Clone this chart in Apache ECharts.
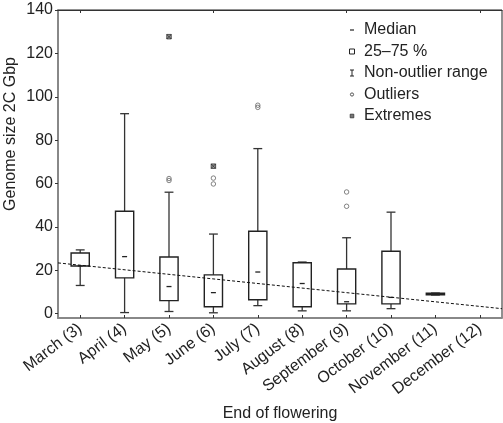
<!DOCTYPE html>
<html>
<head>
<meta charset="utf-8">
<script src="https://cdn.jsdelivr.net/npm/echarts@6/dist/echarts.min.js"></script>
<style>
html,body{margin:0;padding:0;background:#fff;}
#chart{width:503px;height:423px;}
</style>
</head>
<body>
<div id="chart"></div>
<script>
var categories = ['March (3)','April (4)','May (5)','June (6)','July (7)','August (8)','September (9)','October (10)','November (11)','December (12)'];
var whiskerLow  = [13,   0.5, 1,    0.4,  3.7,  1.3,  1.3,  2.3,  8.6, null];
var q1          = [22,   16.5, 6,   3.2,  6.4,  3.2,  4.5,  4.5,  8.7, null];
var median      = [22,   26.3, 12.5, 9.7, 19.2, 13.9, 5.5,  7.5,  9.0, null];
var q3          = [28,   47.2, 26.1, 17.9, 38,  23.5, 20.6, 28.8, 9.4, null];
var whiskerHigh = [29.4, 92.2, 56,   36.7, 76.1, 23.8, 35,  46.8, 9.5, null];
var outliers = [[2,61.4],[2,62.3],[3,62.5],[3,59.8],[4,95.1],[4,96.1],[6,56.1],[6,49.5]];
var extremes = [[2,127.7],[3,68.0]];
var trendX = [-0.5, 9.5];
var trendY = [23.4, 2.3];
var yTicks = [0,20,40,60,80,100,120,140];
var legendItems = ['Median','25\u201375 %','Non-outlier range','Outliers','Extremes'];
var yTitle = 'Genome size 2C Gbp';
var xTitle = 'End of flowering';

var FONT = 'Liberation Sans, Arial, Helvetica, sans-serif';
var boxData = [];
for (var i = 0; i < categories.length; i++) {
  if (median[i] == null) continue;
  boxData.push([i, whiskerLow[i], q1[i], median[i], q3[i], whiskerHigh[i]]);
}
var trendData = trendX.map(function(x, k){ return [x, trendY[k]]; });

function renderBox(params, api) {
  var idx = api.value(0);
  var x = api.coord([idx, 0])[0];
  var bw = api.size([1, 0])[0] * 0.41;
  var cw = api.size([1, 0])[0] * 0.2;
  var mw = 5;
  var yLo = api.coord([idx, api.value(1)])[1];
  var yQ1 = api.coord([idx, api.value(2)])[1];
  var yMd = api.coord([idx, api.value(3)])[1];
  var yQ3 = api.coord([idx, api.value(4)])[1];
  var yHi = api.coord([idx, api.value(5)])[1];
  var wStyle = {stroke: '#333', lineWidth: 1.3, fill: null};
  var bStyle = {stroke: '#222', lineWidth: 1.4, fill: null};
  return {
    type: 'group',
    children: [
      {type:'line', shape:{x1:x, y1:yQ3, x2:x, y2:yHi}, style: wStyle},
      {type:'line', shape:{x1:x, y1:yQ1, x2:x, y2:yLo}, style: wStyle},
      {type:'line', shape:{x1:x-cw/2, y1:yHi, x2:x+cw/2, y2:yHi}, style: wStyle},
      {type:'line', shape:{x1:x-cw/2, y1:yLo, x2:x+cw/2, y2:yLo}, style: wStyle},
      {type:'rect', shape:{x:x-bw/2, y:yQ3, width:bw, height:Math.max(1, yQ1-yQ3)}, style: bStyle},
      {type:'line', shape:{x1:x-mw/2, y1:yMd, x2:x+mw/2, y2:yMd}, style: {stroke:'#222', lineWidth:1.3}}
    ]
  };
}

var graphics = [];
var lx = 352, tx = 364, ly0 = 30, ldy = 21.5;
legendItems.forEach(function(name, k){
  var cy = ly0 + k * ldy;
  graphics.push({type:'text', x: tx, y: cy, style:{text:name, font:'16px ' + FONT, fill:'#222', textVerticalAlign:'middle', verticalAlign:'middle'}});
});
graphics.push({type:'line', shape:{x1:lx-2, y1:ly0, x2:lx+2, y2:ly0}, style:{stroke:'#222', lineWidth:1.2}});
graphics.push({type:'rect', shape:{x:lx-2.5, y:ly0+ldy-2.5, width:5, height:5}, style:{stroke:'#222', lineWidth:1, fill:null}});
graphics.push({type:'line', shape:{x1:lx-2, y1:ly0+2*ldy-3, x2:lx+2, y2:ly0+2*ldy-3}, style:{stroke:'#222', lineWidth:1}});
graphics.push({type:'line', shape:{x1:lx, y1:ly0+2*ldy-3, x2:lx, y2:ly0+2*ldy+3}, style:{stroke:'#222', lineWidth:1}});
graphics.push({type:'line', shape:{x1:lx-2, y1:ly0+2*ldy+3, x2:lx+2, y2:ly0+2*ldy+3}, style:{stroke:'#222', lineWidth:1}});
graphics.push({type:'circle', shape:{cx:lx, cy:ly0+3*ldy, r:1.6}, style:{stroke:'#444', lineWidth:0.9, fill:null}});
graphics.push({type:'rect', shape:{x:lx-1.8, y:ly0+4*ldy-1.8, width:3.6, height:3.6}, style:{stroke:'#333', lineWidth:0.8, fill:'#777'}});
graphics.push({type:'text', x: 11, y: 134, rotation: Math.PI/2,
  style:{text: yTitle, font:'16px ' + FONT, fill:'#222', align:'center', verticalAlign:'middle', textAlign:'center', textVerticalAlign:'middle'}});

var chart = echarts.init(document.getElementById('chart'), null, {renderer:'canvas'});
chart.setOption({
  animation: false,
  backgroundColor: '#fff',
  grid: {left: 58, right: 1, top: 10, bottom: 105, show: true, borderColor: '#222', borderWidth: 1, outerBoundsMode: 'none', containLabel: false},
  xAxis: [
    {
      type: 'category', data: categories, boundaryGap: true, position: 'bottom',
      axisLine: {show: true, onZero: false, lineStyle: {color: '#888', width: 2}},
      axisTick: {show: true, inside: true, length: 3, alignWithLabel: true, lineStyle: {color: '#333'}},
      axisLabel: {rotate: 37, interval: 0, margin: 9, fontSize: 16, fontFamily: FONT, color: '#222'},
      name: xTitle, nameLocation: 'middle', nameGap: 88,
      nameTextStyle: {fontSize: 16, fontFamily: FONT, color: '#222'},
      splitLine: {show: false}
    },
    {
      type: 'category', data: categories, boundaryGap: true, position: 'top',
      axisLine: {show: true, onZero: false, lineStyle: {color: '#333', width: 1}},
      axisTick: {show: true, inside: true, length: 3, alignWithLabel: true, lineStyle: {color: '#333'}},
      axisLabel: {show: false}, splitLine: {show: false}
    },
    {
      type: 'value', min: -0.5, max: 9.5, show: false,
      axisLine: {onZero: false}
    }
  ],
  yAxis: {
    type: 'value', min: -2, max: 140,
    axisLine: {show: true, onZero: false, lineStyle: {color: '#888', width: 2}},
    axisTick: {show: true, inside: false, length: 3, customValues: yTicks, lineStyle: {color: '#333'}},
    axisLabel: {customValues: yTicks, margin: 5, fontSize: 16, fontFamily: FONT, color: '#222'},
    splitLine: {show: false}
  },
  series: [
    {
      type: 'custom', name: 'box', xAxisIndex: 0, renderItem: renderBox,
      encode: {x: 0, y: [1,2,3,4,5]}, data: boxData, z: 2
    },
    {
      type: 'scatter', name: 'Outliers', xAxisIndex: 0, data: outliers,
      symbol: 'circle', symbolSize: 4.5,
      itemStyle: {color: 'rgba(0,0,0,0)', borderColor: '#555', borderWidth: 0.9}, z: 3
    },
    {
      type: 'scatter', name: 'Extremes', xAxisIndex: 0, data: extremes,
      symbol: 'path://M0,0L10,10M10,0L0,10M0,0L10,0L10,10L0,10Z', symbolSize: 4.5,
      itemStyle: {color: '#888', borderColor: '#222', borderWidth: 0.9}, z: 3
    },
    {
      type: 'line', name: 'trend', xAxisIndex: 2, data: trendData, symbol: 'none',
      lineStyle: {color: '#111', width: 1, type: [3, 2]}, z: 4, silent: true
    }
  ],
  graphic: graphics
});
</script>
</body>
</html>
